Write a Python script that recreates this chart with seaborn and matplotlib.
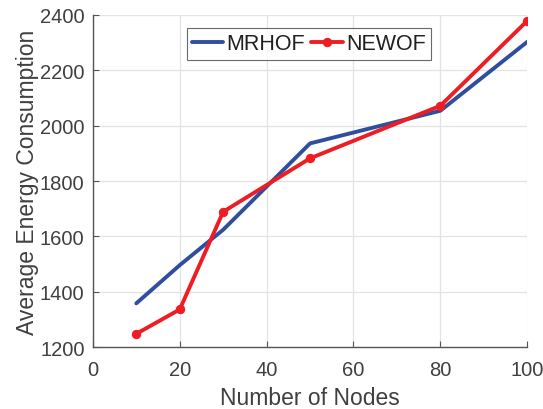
import numpy as np
import pandas as pd
import matplotlib
matplotlib.use("Agg")
import matplotlib.pyplot as plt
import seaborn as sns

nodes = [10, 20, 30, 50, 80, 100]
mrhof = [1358, 1496, 1624, 1936, 2054, 2303]
newof = [1248, 1336, 1689, 1882, 2072, 2379]

df = pd.DataFrame({"nodes": nodes * 2,
                   "energy": mrhof + newof,
                   "method": ["MRHOF"] * len(nodes) + ["NEWOF"] * len(nodes)})

sns.set_style("whitegrid")
plt.rcParams['font.family'] = ['Liberation Sans', 'DejaVu Sans']

fig = plt.figure(figsize=(5.43, 4.10), dpi=100)
ax = fig.add_axes([0.171, 0.151, 0.800, 0.810])

blue = "#2F4E9E"
red = "#EE1D24"
sns.lineplot(data=df[df.method == "MRHOF"], x="nodes", y="energy", color=blue,
             linewidth=2.8, label="MRHOF", ax=ax)
sns.lineplot(data=df[df.method == "NEWOF"], x="nodes", y="energy", color=red,
             linewidth=2.8, marker="o", markersize=6, markeredgecolor=red,
             label="NEWOF", ax=ax)

ax.set_xlim(0, 100)
ax.set_ylim(1200, 2400)
ax.set_xticks(np.arange(0, 101, 20))
ax.set_yticks(np.arange(1200, 2401, 200))
ax.grid(True, color="#e3e3e3", linewidth=0.9)
for s in ["top", "right"]:
    ax.spines[s].set_visible(False)
for s in ["left", "bottom"]:
    ax.spines[s].set_color("#555555")
    ax.spines[s].set_linewidth(1.0)
ax.tick_params(direction="in", length=4, color="#555555", labelsize=14.5,
               labelcolor="#404040", left=True, bottom=True)
ax.tick_params(axis="x", pad=9)
ax.tick_params(axis="y", pad=6)
ax.set_xlabel("Number of Nodes", fontsize=16.5, color="#404040", labelpad=5)
ax.set_ylabel("Average Energy Consumption", fontsize=16.5, color="#404040", labelpad=1)

leg = ax.legend(loc="upper center", bbox_to_anchor=(0.497, 0.961), ncol=2,
                fontsize=15.5, frameon=True, fancybox=False, handlelength=1.45,
                handletextpad=0.15, columnspacing=0.3, borderpad=0.25,
                borderaxespad=0)
leg.get_frame().set_edgecolor("#444444")
leg.get_frame().set_linewidth(0.8)
for t in leg.get_texts():
    t.set_color("#202020")

fig.savefig("out.png", dpi=100)
